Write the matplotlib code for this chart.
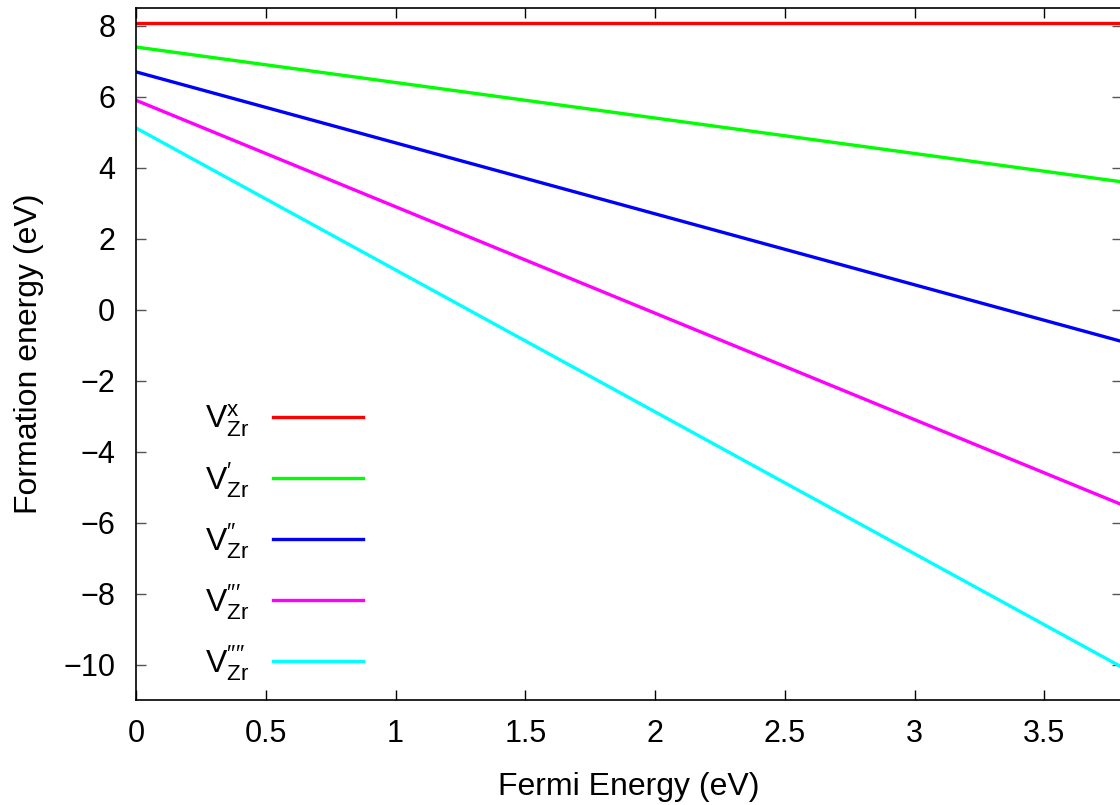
import numpy as np
import matplotlib
matplotlib.use("Agg")
import matplotlib.pyplot as plt
from matplotlib.ticker import FormatStrFormatter

plt.rcParams['font.family'] = ['Liberation Sans', 'DejaVu Sans']
plt.rcParams['mathtext.fontset'] = 'custom'
plt.rcParams['mathtext.rm'] = 'Liberation Sans'
plt.rcParams['mathtext.it'] = 'Liberation Sans'

# formation energy E_f = intercept - q * E_F  (charge states 0 .. -4)
labels = [r'$\mathrm{V}^{\mathrm{x}}_{\mathrm{Zr}}$',
          r'$\mathrm{V}^{\mathrm{′}}_{\mathrm{Zr}}$',
          r'$\mathrm{V}^{\mathrm{′′}}_{\mathrm{Zr}}$',
          r'$\mathrm{V}^{\mathrm{′′′}}_{\mathrm{Zr}}$',
          r'$\mathrm{V}^{\mathrm{′′′′}}_{\mathrm{Zr}}$']
intercepts = [8.07, 7.4, 6.7, 5.9, 5.12]
charges = [0, 1, 2, 3, 4]
colors = ['#ff0000', '#00ff00', '#0000ff', '#ff00ff', '#00ffff']

fermi = np.array([0.0, 3.8])
xticks = [0, 0.5, 1, 1.5, 2, 2.5, 3, 3.5]
yticks = [-10, -8, -6, -4, -2, 0, 2, 4, 6, 8]

fig = plt.figure(figsize=(11.2, 8.05), dpi=100)
ax = fig.add_axes([136 / 1120, 1 - 700 / 805, 1 - 136 / 1120 + 0.002, (700 - 8) / 805])

for lab, b, q, c in zip(labels, intercepts, charges, colors):
    ax.plot(fermi, b - q * fermi, color=c, lw=2.4, label=lab)

ax.set_xlim(0, 3.8)
ax.set_ylim(-11, 8.5)
ax.set_xticks(xticks)
ax.set_yticks(yticks)
ax.xaxis.set_major_formatter(FormatStrFormatter('%g'))
ax.tick_params(direction='in', length=7, width=1, labelsize=22,
               top=True, right=True)
ax.tick_params(axis='y', colors='#555555', labelcolor='black', pad=15)
ax.tick_params(axis='x', pad=14)
for s in ax.spines.values():
    s.set_linewidth(1.2)
ax.spines['right'].set_visible(False)

ax.set_xlabel('Fermi Energy (eV)', fontsize=23, labelpad=16)
ax.set_ylabel('Formation energy (eV)', fontsize=23, labelpad=14)

leg = ax.legend(loc='lower left', bbox_to_anchor=(0.07, 0.025), frameon=False,
                markerfirst=False, fontsize=23, handlelength=2.8,
                handletextpad=0.75, labelspacing=0.66,
                borderaxespad=0, borderpad=0)

fig.savefig('out.png', dpi=100)
